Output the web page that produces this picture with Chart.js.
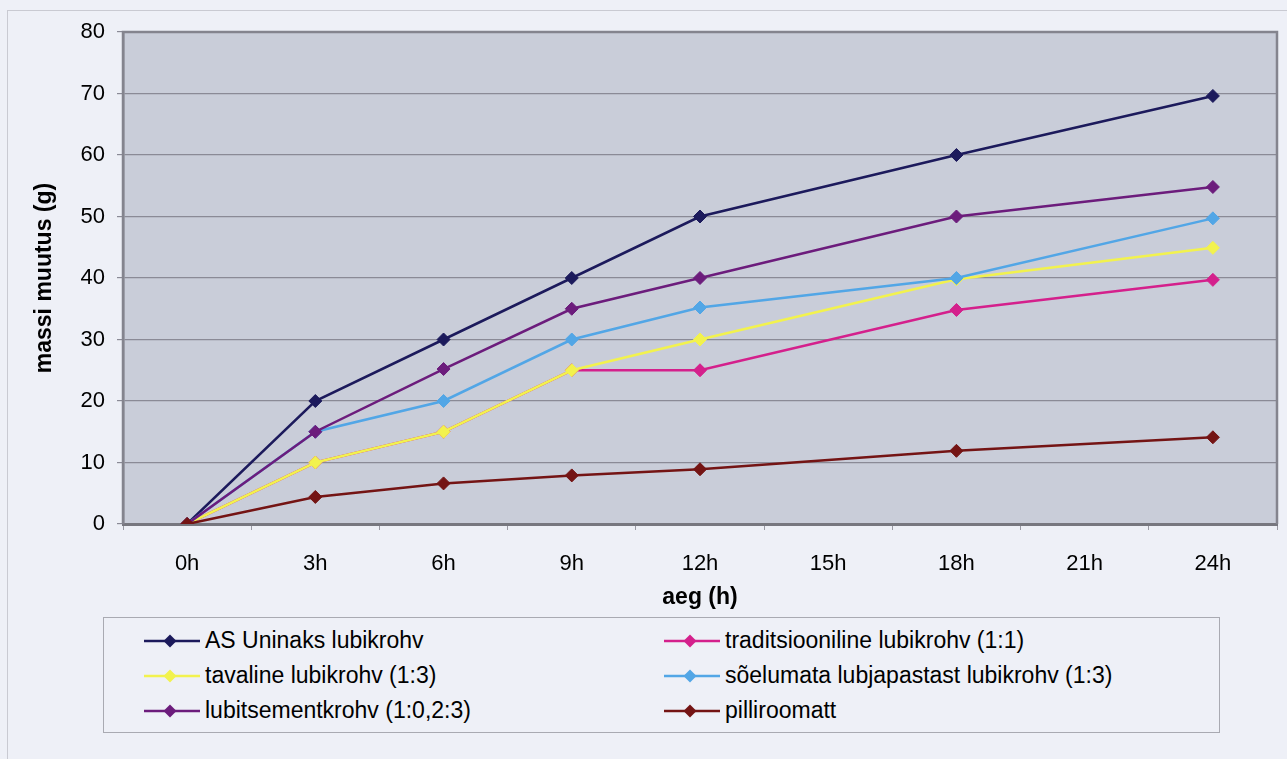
<!DOCTYPE html>
<html>
<head>
<meta charset="utf-8">
<script src="https://cdn.jsdelivr.net/npm/chart.js@4.4.1/dist/chart.umd.min.js"></script>
<style>
  body { margin: 0; width: 1287px; height: 759px; overflow: hidden; position: relative;
         background: #eef0f7; font-family: 'Liberation Sans', Arial, sans-serif; }
  #frame { position: absolute; left: 7px; top: 10px; width: 1400px; height: 900px;
           border-left: 1px solid #c9cad2; border-top: 1px solid #c9cad2; }
  #wrap { position: absolute; left: 0; top: 0; width: 1287px; height: 615px; }
  #legend { position: absolute; left: 103px; top: 617px; width: 1117px; height: 116px;
            border: 1px solid #a9aab2; box-sizing: border-box;
            display: grid; grid-template-columns: 560px 557px; grid-auto-rows: 35px;
            padding-top: 5px; }
  .item { display: flex; align-items: center; font-size: 23px; color: #000; }
  .item:nth-child(odd) { padding-left: 40px; }
  .item svg { margin-right: 5px; flex: none; }
</style>
</head>
<body>
<div id="frame"></div>
<div id="wrap"><canvas id="chart"></canvas></div>
<div id="legend"></div>
<script>
// kategooriad (x-telg)
const labels = ['0h', '3h', '6h', '9h', '12h', '15h', '18h', '21h', '24h'];
const yTicks = [0, 10, 20, 30, 40, 50, 60, 70, 80];

// massi muutus (g), 15h ja 21h puuduvad
const uninaks      = [0, 20, 30, 40, 50, null, 60, null, 69.6];
const traditsioon  = [0, 10, 15, 25, 25, null, 34.8, null, 39.7];
const tavaline     = [0, 10, 15, 25, 30, null, 39.8, null, 44.9];
const soelumata    = [0, 15, 20, 30, 35.2, null, 40, null, 49.7];
const lubitsement  = [0, 15, 25.2, 35, 40, null, 50, null, 54.8];
const pilliroomatt = [0, 4.4, 6.6, 7.9, 8.9, null, 11.9, null, 14.1];

const names = ['AS Uninaks lubikrohv', 'traditsiooniline lubikrohv (1:1)',
               'tavaline lubikrohv (1:3)', 'sõelumata lubjapastast lubikrohv (1:3)',
               'lubitsementkrohv (1:0,2:3)', 'pilliroomatt'];
const values = [uninaks, traditsioon, tavaline, soelumata, lubitsement, pilliroomatt];
const colors = ['#1c1a5c', '#d4208c', '#f2f24e', '#52a6e6', '#6c1c7c', '#741414'];

const datasets = names.map((n, i) => ({
    label: n,
    data: values[i],
    borderColor: colors[i],
    backgroundColor: colors[i],
    borderWidth: 2.5,
    pointStyle: 'rectRot',
    pointRadius: 6.5,
    pointBorderWidth: 1,
    spanGaps: true,
    tension: 0,
    order: names.length - i   // hilisem seeria peal, nagu Excelis
}));

// joonise taust ja raam
const plotBg = {
    id: 'plotBg',
    beforeDraw(chart) {
        const { ctx, chartArea: a } = chart;
        ctx.save();
        ctx.fillStyle = '#c9cdd9';
        ctx.fillRect(a.left, a.top, a.right - a.left, a.bottom - a.top);
        ctx.restore();
    },
    beforeDatasetsDraw(chart) {
        const { ctx, chartArea: a } = chart;
        ctx.save();
        ctx.strokeStyle = '#84848e';
        ctx.lineWidth = 2.5;
        ctx.beginPath();
        ctx.moveTo(a.left, a.bottom);
        ctx.lineTo(a.left, a.top);
        ctx.lineTo(a.right, a.top);
        ctx.lineTo(a.right, a.bottom);
        ctx.stroke();
        ctx.restore();
    }
};

new Chart(document.getElementById('chart'), {
    type: 'line',
    data: { labels: labels, datasets: datasets },
    plugins: [plotBg],
    options: {
        responsive: true,
        maintainAspectRatio: false,
        animation: false,
        layout: { padding: { left: 10, right: 10, top: 32, bottom: 0 } },
        plugins: { legend: { display: false }, tooltip: { enabled: false } },
        scales: {
            x: {
                offset: true,
                afterFit(scale) { scale.height = 91; },
                grid: { offset: true, drawOnChartArea: false, tickLength: 6, color: '#9a9aa4' },
                border: { color: '#77777f', width: 3 },
                ticks: { color: '#000', padding: 21, font: { family: 'Liberation Sans', size: 22 } },
                title: { display: true, text: 'aeg (h)', color: '#000', padding: { top: 0, bottom: 4 },
                         font: { family: 'Liberation Sans', size: 23, weight: 'bold' } }
            },
            y: {
                min: 0,
                max: 80,
                afterFit(scale) { scale.width = 113; },
                afterBuildTicks(scale) { scale.ticks = yTicks.map(v => ({ value: v })); },
                grid: { color: '#8a8a96', lineWidth: 1.2, tickLength: 6 },
                border: { color: '#84848e', width: 2.5 },
                ticks: { color: '#000', padding: 12, font: { family: 'Liberation Sans', size: 22 } },
                title: { display: true, text: 'massi muutus (g)', color: '#000', padding: { top: 21, bottom: 0 },
                         font: { family: 'Liberation Sans', size: 23, weight: 'bold' } }
            }
        }
    }
});

// legend kahes veerus
const legend = document.getElementById('legend');
names.forEach((n, i) => {
    const d = document.createElement('div');
    d.className = 'item';
    d.innerHTML = '<svg width="56" height="16" viewBox="0 0 56 16">' +
        '<line x1="0" y1="8" x2="56" y2="8" stroke="' + colors[i] + '" stroke-width="2.5"/>' +
        '<polygon points="26,1.5 32.5,8 26,14.5 19.5,8" fill="' + colors[i] + '"/></svg>' +
        '<span>' + n + '</span>';
    legend.appendChild(d);
});
</script>
</body>
</html>
